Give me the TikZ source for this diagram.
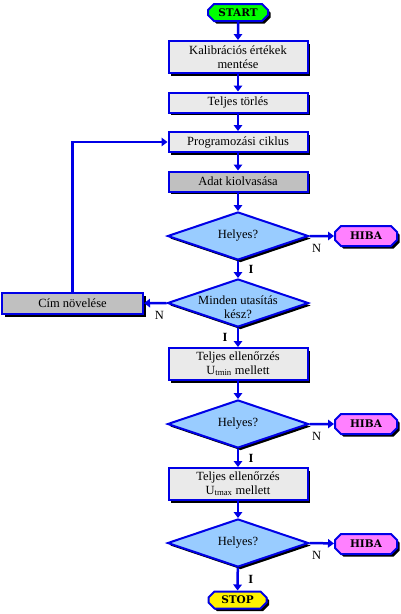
\documentclass[tikz,border=0pt]{standalone}
\usepackage{fontspec}
\setmainfont{Liberation Serif}
\newfontfamily\termfont{DejaVu Serif}
\usetikzlibrary{arrows.meta,positioning}
\usetikzlibrary{shapes.geometric,shapes.misc,shadows}

\definecolor{flowblue}{RGB}{0,0,230}
\definecolor{lightbox}{RGB}{234,234,234}
\definecolor{darkbox}{RGB}{192,192,192}
\definecolor{decblue}{RGB}{153,204,255}
\definecolor{errpink}{RGB}{255,128,255}

\begin{document}
\begin{tikzpicture}[
     x=1pt,y=-1pt,
     font=\fontsize{12.5}{13.5}\selectfont,
     shad/.style={draw=flowblue,line width=2pt,
       drop shadow={shadow xshift=2.5pt,shadow yshift=-2.5pt,fill=black,opacity=1}},
     box/.style={shad,rectangle,fill=lightbox,minimum width=139pt,minimum height=20pt,
       inner sep=1pt,align=center},
     dbox/.style={box,fill=darkbox},
     dec/.style={shad,diamond,fill=decblue,inner sep=0pt,minimum width=141pt,minimum height=48pt},
     term/.style={shad,chamfered rectangle,chamfered rectangle sep=3pt,inner sep=1pt,
       minimum width=60pt,minimum height=17pt,font=\termfont\bfseries\fontsize{10.5}{11}\selectfont},
     arr/.style={draw=flowblue,line width=2.5pt,-{Triangle[width=8.5pt,length=6pt]}},
     no/.style={font=\fontsize{12.5}{13.5}\selectfont},
     yes/.style={font=\bfseries\fontsize{12.5}{13.5}\selectfont}
   ]
   \path[use as bounding box] (0,0) rectangle (400,614);
   % Main column.
   \node[term,fill=green] (start) at (238,12.5) {START};
   \node[box,minimum height=32pt] (kalib) at (238,57) {Kalibrációs értékek\\mentése};
   \node[box] (torles) at (238,102.5) {Teljes törlés};
   \node[box] (prog) at (238,142) {Programozási ciklus};
   \node[dbox] (adat) at (238,181.5) {Adat kiolvasása};
   \node[dec,label={center:Helyes?}] (hely1) at (238,236) {};
   \node[dec,label={[align=center,yshift=-4pt]center:Minden utasítás\\kész?}] (kesz) at (238,303) {};
   \node[box,minimum height=32pt] (ellmin) at (238,364) {Teljes ellenőrzés\\U\textsubscript{tmin} mellett};
   \node[dec,label={center:Helyes?}] (hely2) at (238,424) {};
   \node[box,minimum height=32pt] (ellmax) at (238,484) {Teljes ellenőrzés\\U\textsubscript{tmax} mellett};
   \node[dec,label={center:Helyes?}] (hely3) at (238,543) {};
   \node[term,fill=yellow,minimum width=58pt] (stop) at (237.5,600) {STOP};
   % Side nodes.
   \node[dbox,minimum width=141pt,minimum height=21pt] (cim) at (72.5,303.5) {Cím növelése};
   \node[term,fill=errpink,minimum width=62pt,minimum height=20pt] (hiba1) at (366,236) {HIBA};
   \node[term,fill=errpink,minimum width=62pt,minimum height=20pt] (hiba2) at (366,424) {HIBA};
   \node[term,fill=errpink,minimum width=62pt,minimum height=20pt] (hiba3) at (366,544) {HIBA};
   % Connectors.
   \draw[arr] (start) -- (kalib);
   \draw[arr] (kalib) -- (torles);
   \draw[arr] (torles) -- (prog);
   \draw[arr] (prog) -- (adat);
   \draw[arr] (adat) -- (hely1);
   \draw[arr] (hely1) -- node[yes,right=6pt] {I} (kesz);
   \draw[arr] (hely1.east) -- node[no,pos=0,below right=4pt and -2pt] {N} (hiba1);
   \draw[arr] (kesz) -- node[yes,left=6pt] {I} (ellmin);
   \draw[arr] (kesz.west) -- node[no,pos=0,below left=4pt and -2pt] {N} (cim);
   \draw[arr] (cim.north) |- (prog.west);
   \draw[arr] (ellmin) -- (hely2);
   \draw[arr] (hely2) -- node[yes,right=6pt] {I} (ellmax);
   \draw[arr] (hely2.east) -- node[no,pos=0,below right=4pt and -2pt] {N} (hiba2);
   \draw[arr] (ellmax) -- (hely3);
   \draw[arr] (hely3) -- node[yes,right=6pt] {I} (stop);
   \draw[arr] (hely3.east) -- node[no,pos=0,below right=4pt and -2pt] {N} (hiba3);
\end{tikzpicture}
\end{document}
